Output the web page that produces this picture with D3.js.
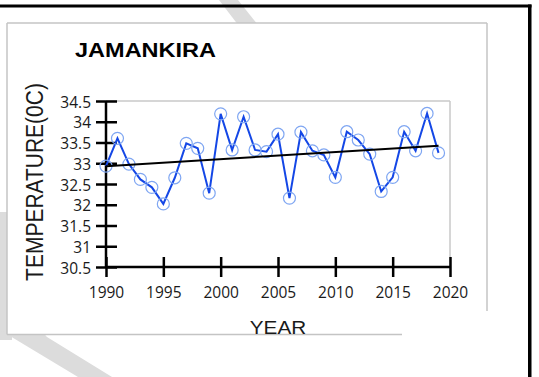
<!DOCTYPE html>
<html>
<head>
<meta charset="utf-8">
<script src="https://cdn.jsdelivr.net/npm/d3@7"></script>
<style>
  html, body { margin: 0; padding: 0; background: #fff; }
  svg { display: block; }
</style>
</head>
<body>
<svg id="chart" width="539" height="377"></svg>
<script>
// Annual mean temperature, Jamankira station
const years = [1990, 1991, 1992, 1993, 1994, 1995, 1996, 1997, 1998, 1999,
               2000, 2001, 2002, 2003, 2004, 2005, 2006, 2007, 2008, 2009,
               2010, 2011, 2012, 2013, 2014, 2015, 2016, 2017, 2018, 2019];
const temps = [32.93, 33.60, 32.98, 32.61, 32.42, 32.02, 32.65, 33.48, 33.36, 32.28,
               34.19, 33.32, 34.12, 33.32, 33.28, 33.70, 32.16, 33.75, 33.30, 33.20,
               32.66, 33.76, 33.56, 33.22, 32.32, 32.66, 33.76, 33.30, 34.20, 33.25];
// Linear trend end points
const trendYears = [1990, 2019];
const trendTemps = [32.93, 33.42];

const xTicks = [1990, 1995, 2000, 2005, 2010, 2015, 2020];
const yTicks = [30.5, 31, 31.5, 32, 32.5, 33, 33.5, 34, 34.5];

const title = "JAMANKIRA";
const xTitle = "YEAR";
const yTitle = "TEMPERATURE(0C)";

const svg = d3.select("#chart");
const stretch = 1.12;

// faint background strokes
const wm = svg.append("g").attr("fill", "#dcdcdc");
wm.append("polygon").attr("points", "219,0 238,0 262,30 242,30");
wm.append("polygon").attr("points", "0,212 12,212 12,340 0,340");
wm.append("polygon").attr("points", "0,318 0,300 12,300 47,337 112,377 78,377 0,330");

// outer panel
svg.append("rect").attr("x", 7).attr("y", 23).attr("width", 480).attr("height", 311.5)
  .attr("fill", "#fff");
const frame = svg.append("g").attr("stroke", "#c4c4c4").attr("stroke-width", 1.5).attr("fill", "none");
frame.append("line").attr("x1", 7).attr("y1", 23).attr("x2", 487).attr("y2", 23);
frame.append("line").attr("x1", 7).attr("y1", 23).attr("x2", 7).attr("y2", 334.5);
frame.append("line").attr("x1", 487).attr("y1", 23).attr("x2", 487).attr("y2", 311);
frame.append("line").attr("x1", 7).attr("y1", 334.5).attr("x2", 402).attr("y2", 334.5);

// black page border
svg.append("rect").attr("x", 0).attr("y", 4.5).attr("width", 531.5).attr("height", 3).attr("fill", "#000");
svg.append("rect").attr("x", 528).attr("y", 4.5).attr("width", 3.5).attr("height", 373).attr("fill", "#000");

const x = d3.scaleLinear().domain([1990, 2020]).range([106, 450]);
const y = d3.scaleLinear().domain([30.5, 34.5]).range([267, 101]);

// plot area outline (top and right)
const pa = svg.append("g").attr("stroke", "#c8c8c8").attr("stroke-width", 1.5);
pa.append("line").attr("x1", x(1990)).attr("x2", x(2020)).attr("y1", y(34.5)).attr("y2", y(34.5));
pa.append("line").attr("x1", x(2020)).attr("x2", x(2020)).attr("y1", y(34.5)).attr("y2", y(30.5));

const tickFont = "'Open Sans', sans-serif";

// y axis
const gy = svg.append("g").attr("transform", `translate(${x(1990)},0)`)
  .call(d3.axisLeft(y).tickValues(yTicks).tickFormat(d3.format("~g")).tickSize(10));
gy.select(".domain").attr("stroke", "#000").attr("stroke-width", 2.5)
  .attr("d", `M0,${y(34.5)}V${y(30.5)}`);
gy.selectAll(".tick line").attr("x1", -10).attr("x2", 11).attr("stroke", "#000").attr("stroke-width", 2.5);
gy.selectAll(".tick text").attr("x", -15).attr("dy", "0.4em")
  .attr("font-family", tickFont).attr("font-size", 15.5).attr("fill", "#1a1a1a");

// x axis
const gx = svg.append("g").attr("transform", `translate(0,${y(30.5)})`)
  .call(d3.axisBottom(x).tickValues(xTicks).tickFormat(d3.format("d")).tickSize(10));
gx.select(".domain").attr("stroke", "#000").attr("stroke-width", 2.5)
  .attr("d", `M${x(1990)},0H${x(2020)}`);
gx.selectAll(".tick line").attr("y1", -10).attr("y2", 10).attr("stroke", "#000").attr("stroke-width", 2.5);
gx.selectAll(".tick text").attr("y", 31).attr("dy", null)
  .attr("font-family", tickFont).attr("font-size", 15.5).attr("fill", "#1a1a1a");

// data line
const line = d3.line().x((d, i) => x(years[i])).y(d => y(d));
svg.append("path").datum(temps).attr("d", line)
  .attr("fill", "none").attr("stroke", "#1447e6").attr("stroke-width", 2)
  .attr("stroke-linejoin", "miter");

// markers
svg.append("g").selectAll("circle").data(temps).join("circle")
  .attr("cx", (d, i) => x(years[i])).attr("cy", d => y(d)).attr("r", 6)
  .attr("fill", "none").attr("stroke", "#7fa6f2").attr("stroke-width", 1.2);

// trend line
const trendLine = d3.line().x((d, i) => x(trendYears[i])).y(d => y(d));
svg.append("path").datum(trendTemps).attr("d", trendLine)
  .attr("fill", "none").attr("stroke", "#000").attr("stroke-width", 2);

// titles
svg.append("text").attr("transform", `translate(75,57) scale(${stretch},1)`)
  .attr("font-family", "'Liberation Sans', Arial, sans-serif").attr("font-weight", "bold")
  .attr("font-size", 21).attr("fill", "#000").text(title);

svg.append("text").attr("transform", `translate(278,334) scale(${stretch},1)`)
  .attr("text-anchor", "middle")
  .attr("font-family", "'Liberation Sans', Arial, sans-serif")
  .attr("font-size", 18.5).attr("fill", "#1a1a1a").text(xTitle);

svg.append("text").attr("transform", `translate(43,182) scale(${stretch},1) rotate(-90)`)
  .attr("text-anchor", "middle")
  .attr("font-family", "'Liberation Sans', Arial, sans-serif")
  .attr("font-size", 21).attr("fill", "#1a1a1a").text(yTitle);
</script>
</body>
</html>
